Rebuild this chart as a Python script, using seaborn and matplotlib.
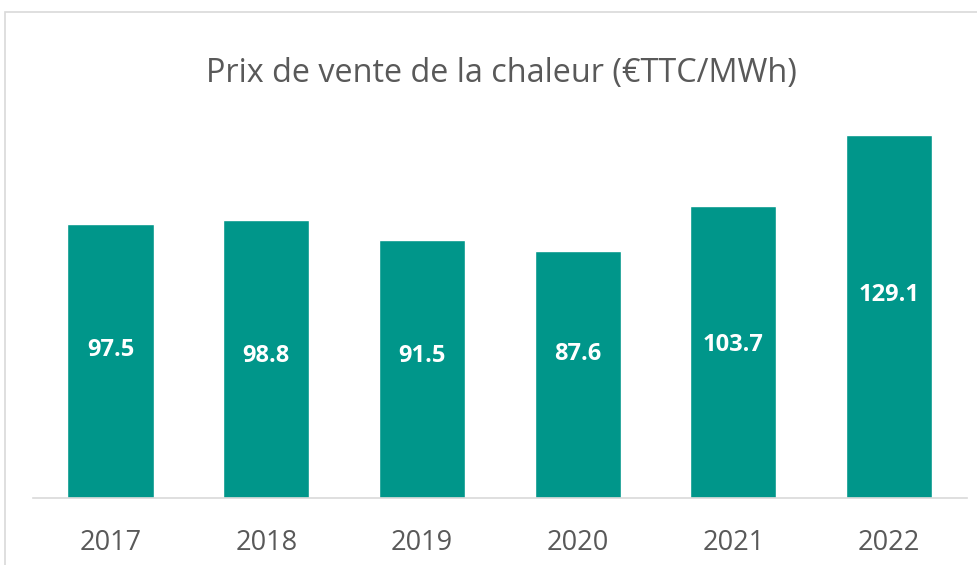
import matplotlib
matplotlib.use("Agg")
import matplotlib.pyplot as plt
import seaborn as sns
import pandas as pd
from matplotlib.patches import Rectangle

years = ["2017", "2018", "2019", "2020", "2021", "2022"]
prices = [97.5, 98.8, 91.5, 87.6, 103.7, 129.1]
label_heights = [52.6, 50.5, 50.5, 51.0, 54.4, 72.1]
title = "Prix de vente de la chaleur (€TTC/MWh)"

df = pd.DataFrame({"year": years, "price": prices})

sns.set_theme(style="white")
plt.rcParams["font.family"] = ["Open Sans", "DejaVu Sans"]

W, H = 978, 565
fig = plt.figure(figsize=(W / 100, H / 100), dpi=100)
ax = fig.add_axes([32.6 / W, (H - 498) / H, (967 - 32.6) / W, 394 / H])

bar_color = "#00968A"
sns.barplot(data=df, x="year", y="price", color=bar_color, width=0.553,
            saturation=1, ax=ax)
ax.set_xlim(-0.5, 5.5)
ax.set_ylim(0, 140)

for i, (v, ly) in enumerate(zip(prices, label_heights)):
    ax.text(i, ly, f"{v:.1f}", ha="center", va="center", color="white",
            fontsize=17, fontweight="bold")

for s in ["top", "right", "left"]:
    ax.spines[s].set_visible(False)
ax.spines["bottom"].set_color("#D9D9D9")
ax.spines["bottom"].set_linewidth(1.2)
ax.set_yticks([])
ax.set_xlabel("")
ax.set_ylabel("")
ax.tick_params(axis="x", length=0, pad=22, labelsize=19.5, labelcolor="#595959")

fig.text(501 / W, 1 - 73 / H, title, ha="center", va="center", fontsize=23.3,
         color="#595959")

fig.patches.append(Rectangle((5 / W, -0.05), 1.1, 1 - 12 / H + 0.05,
                             transform=fig.transFigure, fill=False,
                             edgecolor="#D9D9D9", linewidth=1.2))

fig.savefig("out.png", dpi=100)
